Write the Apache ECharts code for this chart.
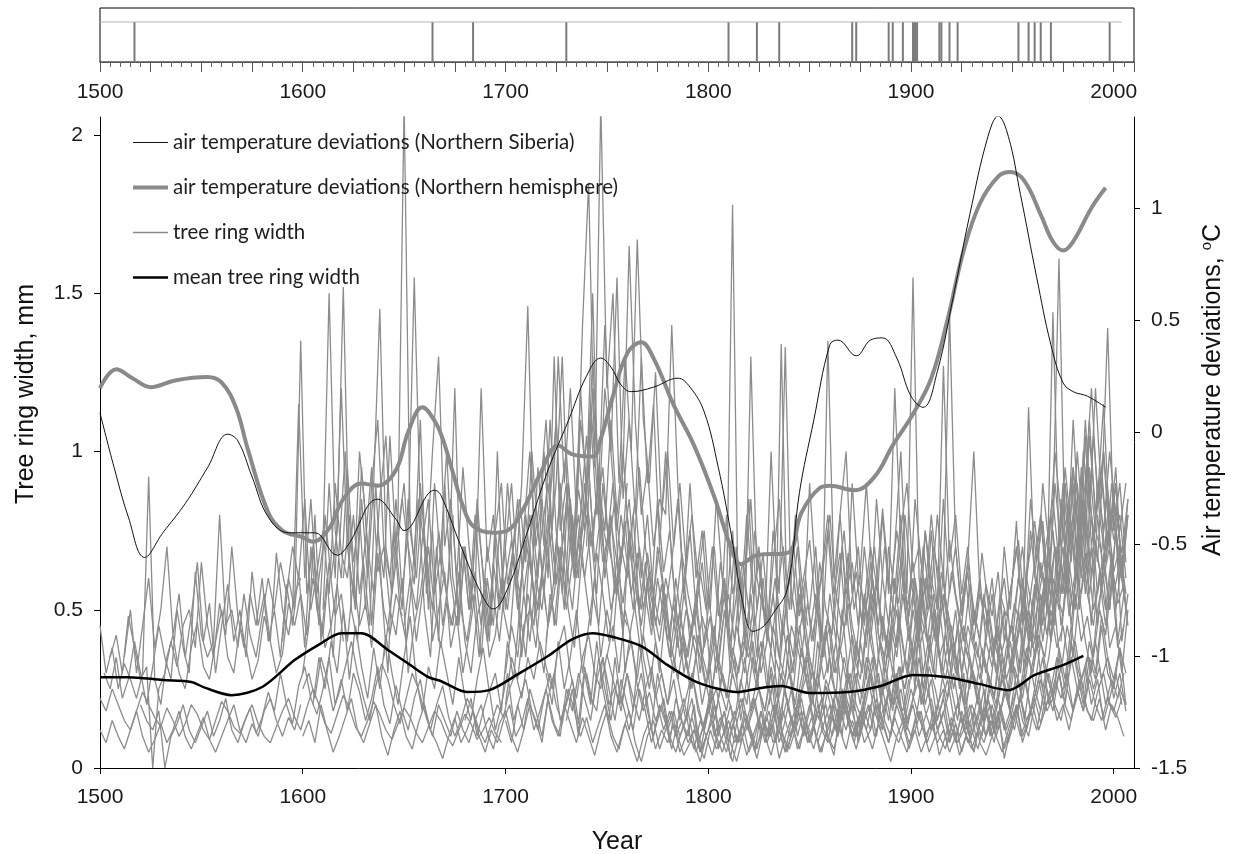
<!DOCTYPE html>
<html><head><meta charset="utf-8">
<script src="https://cdn.jsdelivr.net/npm/echarts@6/dist/echarts.min.js"></script>
<style>html,body{margin:0;padding:0;background:#fff}#c{width:1239px;height:854px}</style>
</head><body><div id="c"></div>
<script>
// ---------- DATA ----------
const xTickYears = [1500, 1600, 1700, 1800, 1900, 2000];
const leftTicks = [0, 0.5, 1, 1.5, 2];
const rightTicks = [-1.5, -1, -0.5, 0, 0.5, 1];

// event years (top strip)
const eventYears = [1517,1664,1684,1730,1810,1824,1835,1871,1873,1889,1891,1896,1901,1902,1903,1914,1915,1919,1923,1953,1958,1961,1964,1969,1998];

// air temperature deviations, Northern Siberia (°C)
const sibYears = [1500,1507,1514,1522,1531,1542,1553,1563,1568,1575,1583,1593,1600,1606,1617,1622,1637,1646,1650,1665,1668,1678,1688,1694,1701,1711,1721,1731,1740,1747,1752,1757,1762,1773,1785,1791,1798,1805,1811,1817,1822,1827,1832,1839,1845,1852,1860,1864,1873,1880,1886,1893,1900,1906,1913,1921,1929,1938,1943,1948,1954,1962,1969,1975,1980,1987,1996];
const sibVals = [0.085,-0.16,-0.38,-0.56,-0.45,-0.32,-0.16,-0.01,-0.04,-0.20,-0.38,-0.45,-0.45,-0.45,-0.55,-0.51,-0.30,-0.39,-0.44,-0.26,-0.28,-0.51,-0.72,-0.79,-0.70,-0.44,-0.17,0.05,0.25,0.33,0.29,0.21,0.18,0.20,0.24,0.20,0.09,-0.16,-0.44,-0.76,-0.89,-0.87,-0.81,-0.70,-0.27,0.05,0.39,0.41,0.34,0.41,0.42,0.33,0.16,0.11,0.27,0.61,0.97,1.32,1.41,1.32,1.06,0.69,0.39,0.22,0.18,0.16,0.11];

// air temperature deviations, Northern hemisphere (°C)
const hemYears = [1500,1508,1516,1525,1537,1553,1560,1567,1573,1583,1590,1600,1605,1613,1620,1629,1637,1646,1652,1659,1665,1669,1674,1679,1684,1694,1701,1709,1717,1726,1733,1743,1747,1753,1760,1767,1773,1783,1793,1803,1811,1816,1824,1839,1846,1855,1860,1872,1882,1891,1901,1910,1918,1926,1934,1943,1949,1956,1964,1970,1975,1980,1989,1996];
const hemVals = [0.196,0.28,0.24,0.20,0.23,0.245,0.22,0.11,-0.08,-0.36,-0.44,-0.47,-0.49,-0.43,-0.30,-0.23,-0.24,-0.17,0.0,0.11,0.05,-0.03,-0.18,-0.33,-0.42,-0.45,-0.44,-0.34,-0.19,-0.06,-0.10,-0.11,-0.03,0.16,0.35,0.40,0.33,0.12,-0.06,-0.29,-0.51,-0.59,-0.55,-0.54,-0.36,-0.25,-0.24,-0.26,-0.20,-0.06,0.08,0.24,0.50,0.81,1.02,1.14,1.16,1.12,0.97,0.85,0.81,0.85,1.0,1.09];

// mean tree ring width (mm)
const meanYears = [1500,1514,1531,1545,1552,1565,1580,1596,1608,1619,1629,1642,1652,1662,1668,1681,1692,1707,1721,1733,1743,1753,1767,1780,1793,1803,1814,1826,1836,1850,1869,1885,1901,1918,1934,1948,1961,1975,1985];
const meanVals = [0.287,0.287,0.278,0.272,0.253,0.23,0.256,0.341,0.39,0.426,0.426,0.373,0.33,0.287,0.275,0.24,0.246,0.30,0.354,0.407,0.426,0.414,0.385,0.325,0.275,0.253,0.24,0.253,0.259,0.237,0.24,0.259,0.294,0.287,0.265,0.246,0.294,0.325,0.354];

// individual tree ring widths (mm), one value every 3 years from each start year
const treeStep = 3;
const treeStarts = [1500,1500,1502,1505,1520,1590,1595,1600,1605,1610,1700,1705,1710,1720,1730,1740,1800,1805,1830,1850,1860,1950,1955,1960,1965,1974,
                    1600,1650,1700,1700,1720,1750,1760,1780,1620,1640,1800,1820,1880,1900,1500,1512,1600,1680,1740,1790];
const trw01 = [.22,.18,.25,.2,.15,.12,.18,.24,.2,.16,.13,.19,.15,.1,.14,.2,.17,.12,.09,.15,.21,.18,.13,.11,.16,.2,.14,.1,.08,.13,.18,.22,.16,.12,.19,.25,.2,.14,.11,.17,.23,.19,.13,.1,.15,.21,.17,.12,.09,.14,.19,.16,.11,.08,.13,.18,.15,.1,.07,.12,.17,.14,.09,.12,.16,.11,.08];
const trw02 = [.45,.3,.38,.25,.33,.28,.22,.3,.92,.28,.2,.35,.42,.3,.25,.38,.46,.32,.28,.4,.5,.35,.3,.45,.38,.28,.34,.48,.4,.3,.36,.52,.45,.55,.42,.6,.5,.38,.45,.58,.4];
const trw03 = [.3,.25,.35,.22,.28,.4,.3,.2,.32,.45,.35,.28,.5,.38,.3,.62,.42,.35,.4,.8,.45,.5,.38,.55,.42,.35,.48,.6,.5,.65,.55,.7,.6,.85,.5,.62,.75,.55,.9,.68,.6,.8,.55,.72,.95,.62,.7,.5,.65,.85,.7,.58,.9,.65,.5,.75,.6,.45,.55,.7,.5,.62,.45,.7,.55,.4,.6,.72,.5,.65,.8,.6,.75,.9,.65,.85,1.0,.7,.88,.75,1.1,.8,.95,.7,.85,.65,.9];
const trw04 = [.35,.42,.3,.48,.38,.28,.32,0,.25,.3,.4,.32,.45,.5,.38,.65,.45,.35,.52,.42,.7,.48,.38,.55,.45,.6,.4,.5,.35,.58,.45,.62,.38,.7,.5,.42,.65,.48,.55,.4,.6,.45,.52,.38,.68,.5,.42,.55,.48];
const trw05 = [.2,.15,.12,.18,0,.1,.14,.2,.12,.08,.13,.18,.1,.15,.22,.12,.08,.14,.19,.11,.16,.24,.18,.3,.2,.14,.26,.32,.22,.17,.25,.35,.2,.28,.18,.3,.24,.15,.22,.32,.2,.14,.26,.18,.12,.22,.28,.16,.1,.2,.15,.1,.18,.12,.08,.15,.2,.11,.06,.14,.18,.1,.05,.12,.2,.15,.08,.22,.14,.1,.25,.18,.3,.22,.15,.28,.35,.2,.26,.18,.3,.22,.15,.25,.32,.2,.12,.18,.1,.15,.08,.12,.05,.1];
const trw06 = [.4,.6,.5,1.35,.55,.7,.45,.8,.6,.75,1.52,.65,.5,.85,.6,.9,1.45,.7,.55,.8,2.1,.75,.6,.85,.5,.9,.65,.55,.8,.45,.7,.5,.85,.6,.4,.75,.55,.9,.65,.5,.8,.6,.95,.7,1.1,.75,.55,.9,.7,1.2,.85,1.3,.9,.75,1.1,.8,1.0,.7,.85,.6,.8,.55,.7,.5,.65,.45,.6,.4,.55,.35,.5];
const trw07 = [.5,1.15,.6,.85,.55,.7,1.5,.75,.6,.95,.65,.8,.5,.9,1.1,.7,.6,.85,.55,.75,1.55,.8,.65,1.0,1.3,.7,.85,.6,.95,.7,.55,1.2,.65,.8,.5,.7,.9,.6,.75,1.0,.7,.85,.6,1.3,.75,.9,.65,1.0,.8,1.15,.9,.7];
const trw08 = [.3,.45,.8,.4,.6,.35,.7,1.0,.5,.4,.65,.45,.9,.55,.3,.75,.5,.4,.6,.85,.5,.35,.7,.45,.6,1.2,.5,.4,.55,.35,.6,.45,1.0,.5,.4,.65,.35,.55,.45,.7,.5];
const trw09 = [.2,.35,.25,.4,.3,.5,.28,.45,.32,.22,.38,.25,.42,.3,.2,.35,.48,.28,.18,.32,.25,.4,.3,.2,.35,.22,.15,.28,.38,.24,.3,.18,.4,.28,.5,.35,.6,.42,.3,.55,.45,.7,.5,.38,.62,.8,.55,.45,.68,.5,.6,.42,.75,.5,.35,.58,.45,.3,.5,.38,.28,.4,.25,.35,.2,.3,.15,.25,.18,.3,.22,.35,.18,.28,.4,.25,.15,.3,.2,.12,.25,.35,.2,.3,.18,.28,.4,.22,.15,.3,.2,.35,.25,.15,.3,.42,.22,.18,.28];
const trw10 = [.5,.9,.6,1.2,.7,.55,1.0,.8,.45,.75,.6,1.05,.7,.5,.85,.65,1.1,.55,.75,.4,.9,.6,.45,.7,.5,.8,.55,.4,.65,.5,.6];
const trw11 = [.3,.45,.35,.55,.4,.6,.5,.7,.45,.65,.55,.8,.6,.9,.7,.85,.65,.75,.55,.7,.6,.8,.5,.65,.45,.7,.55,.4,.6,.45,.35,.5,.3,.45,.25,.4,.55,.3,.45,.35,.5,.3,.4,.25,.45,.35,.55,.3,.4,.5,.35,.25,.45,.3,.5,.38,.28,.42,.32,.55,.4,.3,.48,.35,.6,.42,.3,.5,.38,.45,.55,.4,.62,.35,.5,.3,.45,.38,.28,.4,.32,.45,.3,.4,.25,.38,.5,.35,.55,.42,.6,.5,.7,.45,.65,.8,.55,.7,.6,.75,.55,.65,.5];
const trw12 = [.6,.9,1.46,.7,.85,1.1,.75,1.3,.9,1.2,.8,1.4,1.85,.95,2.1,1.2,1.5,.9,1.3,1.0,1.67,1.1,.9,1.25,.8,1.0,.7,.9,.65,.8,.6,.75,.5,.85,.6,.45,.7,.5,.8,.55,.65,.45,1.0,.55,.7,.5,.8,.6,.45];
const trw13 = [.5,.8,.6,1.0,.7,.9,1.3,.75,.6,1.1,.9,1.5,.8,1.2,1.0,.75,.95,1.65,1.1,.8,.95,.7,.85,.8,1.4,.9,.55,.75,.5,.65,.45];
const trw14 = [.3,.2,.4,.25,.35,.5,.3,.45,.6,.35,.5,.4,.65,.3,.45,.55,.35,.25,.4,.3,.2,.35,.25,.15,.3,.2,.12,.25,.18,.3,.22,.15,.28,.2,.35,.25,.18,.3,.12,.22,.3,.18,.25,.35,.2,.15,.28,.22,.12,.25,.18,.3,.22,.35,.25,.4,.3,.2,.32,.25,.35,.5,.3,.42,.28,.55,.38,.25,.35,.2,.3,.22,.15,.25,.18,.3,.2,.12,.22,.15,.2];
const trw15 = [.15,.25,.1,.3,.2,.4,.25,.15,.35,.2,.3,.18,.4,.25,.12,.3,.2,.08,.22,.15,.1,.2,.05,.15,.25,.1,.18,.03,.14,.22,.12,.05,.18,.1,.2,.08,.15,.25,.1,.18,.08,.15,.22,.1,.04,.18,.12,.2,.08,.15,.2,.1,.25,.15,.3,.18,.12,.22,.35,.2,.28,.15,.22,.1,.18,.25,.12,.05,.15,.2,.1,.18,.03,.12,.2,.08,.15,.25,.18,.3,.22,.35,.25,.4,.3,.2,.35,.28,.45,.3,.25,.38,.2];
const trw16 = [.7,1.2,.9,1.4,1.0,1.55,.85,1.1,.8,1.3,.9,1.15,.7,1.0,.65,.85,.55,.9,.6,.75,.5,.7,.45,.8,.55,.65,.4,1.3,.6,.5,.45];
const trw17 = [.3,.45,.25,.5,1.78,.4,.3,.55,.35,.6,.4,.3,1.34,.45,.35,.6,.4,.28,.5,.35,.55,.4,.7,.45,.3,.5,.38,.6,.42,.3,.45,.35,.55,.4,.6,.45,.3,.5,.35,.42,.3,.45,.35,.25,.4,.3,.5,.35,.25,.38,.45,.3,.5,.35,.6,.45,.7,.5,.65,.55,.75,.5,.68,.45,.8,.6,.7,.5,.65,.45];
const trw18 = [.4,.6,.35,.7,.5,.85,.45,.6,.4,.75,.55,1.33,.5,.7,.45,.9,.6,.4,.75,.5,.8,.55,.65,.45,.7,.5,.85,.6,.45,.7,1.0,.55,1.55,.6,.45,.75,.5,1.27,.65,.8,.55,.7,.45,.6,.4,.55,.35,.5,.3,.45,.6,.4];
const trw19 = [.2,.3,.15,.35,.25,.45,.3,.2,.4,.28,.35,.22,.5,.3,.18,.4,.28,.55,.35,.25,.38,.5,.3,.45,.25,.6,.4,.3,.5,.35,.45,.3,.2,.35,.25,.15,.3,.22,.4,.28,.35,.5,.3,.45,.6,.4,.55,.7,.45,.6,.5,.8,.55,.7,.45,.65,.5,.75,.4,.55];
const trw20 = [.5,.7,.4,1.35,.6,.8,1.0,.55,.7,.45,.65,.5,.8,.55,1.2,.7,.5,.6,.4,.75,.55,.8,.6,1.44,.7,.5,.65,1.0,.55,.45,.6,.4,.7,.5,.78,.45,1.14,.6,.8,.55,1.44,.7,.9,.65,1.0,.75,1.1,.8,.95,.7,.85,.6,.75];
const trw21 = [.15,.25,.1,.3,.2,.12,.25,.35,.18,.28,.2,.3,.15,.25,.4,.2,.3,.12,.22,.35,.25,.15,.3,.1,.2,.28,.15,.08,.2,.12,.18,.28,.15,.3,.4,.25,.35,.5,.3,.45,.35,.55,.4,.3,.5,.6,.38,.45,.3,.5];
const trw22 = [.4,.6,.5,.75,.55,.9,.7,1.0,.8,.65,1.1,.75,.9,1.2,.85,1.0,.7,.9,.6,.8];
const trw23 = [.35,.5,.4,.65,.5,.8,1.61,.7,.9,.65,1.0,.8,1.2,.85,1.39,.75,.9,.65];
const trw24 = [.3,.45,.6,.4,.7,.55,.85,.6,.95,.7,1.05,.8,.65,.9,.7,.55];
const trw25 = [.5,.7,.45,.85,.6,.95,.7,1.1,.8,.65,1.0,.75,.9,.6,.8];
const trw26 = [.4,.65,.9,.55,1.05,.7,.85,1.15,.75,.95,.6,.85];
const trw27 = [.25,.3,.22,.35,.28,.18,.24,.32,.4,.3,.22,.15,.26,.33,.28,.2,.14,.22,.3,.25,.18,.12,.2,.26,.16,.1,.15,.22,.18,.12,.08,.14,.2,.16,.25,.3,.22,.35,.28,.4,.32,.25,.38,.45,.3,.22,.35,.42,.3,.25,.36,.28,.2,.32,.4,.26,.18,.24,.15,.2,.12,.18,.1,.15,.22,.08,.14,.2,.1,.05,.12,.18,.08,.15,.22,.14,.1,.04,.12,.18,.1,.15,.22,.12,.06,.14,.2,.1,.16,.24,.15,.1,.2,.28,.18,.12,.22,.3,.2,.15,.25,.18,.3,.22,.14,.2,.28,.16,.1,.18,.12,.06,.14,.2,.1,.16,.08,.15,.22,.12,.2,.28,.18,.25,.35,.22,.3,.4,.28,.35,.25,.32,.2,.28,.22,.3];
const trw28 = [.45,.6,.4,.55,.7,.5,.38,.52,.45,.62,.4,.3,.48,.55,.35,.42,.6,.5,.68,.55,.72,.6,.5,.65,.8,.58,.7,.9,.62,.75,.85,.7,.95,.6,.78,.65,.52,.7,.58,.45,.6,.5,.4,.55,.35,.48,.3,.42,.5,.36,.28,.4,.32,.22,.38,.3,.45,.35,.25,.4,.5,.35,.28,.42,.3,.55,.4,.32,.25,.38,.45,.3,.4,.52,.35,.28,.45,.6,.42,.35,.5,.38,.6,.45,.32,.48,.4,.55,.35,.28,.4,.3,.45,.35,.25,.38,.3,.22,.35,.42,.3,.45,.55,.4,.5,.62,.48,.7,.55,.65,.5,.72,.6,.8,.55,.68,.5,.75,.6];
const trw29 = [.2,.35,.28,.45,.5,.38,.6,.45,.55,.7,.5,.65,.8,.6,.75,.55,.9,.7,.6,.8,.65,.5,.7,.55,.42,.6,.48,.35,.5,.4,.3,.42,.35,.25,.45,.32,.5,.38,.28,.4,.35,.48,.3,.4,.55,.35,.28,.45,.38,.3,.42,.55,.35,.48,.3,.4,.6,.45,.35,.52,.4,.58,.45,.35,.5,.65,.45,.55,.4,.6,.48,.38,.55,.42,.3,.45,.35,.5,.4,.3,.42,.35,.28,.45,.38,.5,.42,.58,.45,.62,.5,.68,.55,.75,.6,.85,.65,.72,.58,.8,.62,.7,.55];
const trw30 = [.15,.08,.2,.12,.25,.18,.1,.22,.3,.15,.2,.28,.14,.32,.22,.18,.35,.25,.15,.28,.2,.12,.25,.18,.08,.15,.22,.1,.05,.12,.18,.08,.02,.1,.15,.06,.12,.2,.08,.14,.05,.1,.18,.08,.14,.03,.1,.16,.06,.12,.2,.1,.05,.14,.22,.12,.06,.15,.1,.18,.12,.22,.15,.08,.18,.25,.14,.2,.1,.16,.22,.12,.18,.08,.14,.05,.12,.18,.08,.04,.1,.16,.06,.12,.2,.1,.15,.22,.14,.25,.18,.3,.2,.35,.25,.18,.3,.4,.28,.35,.22,.3,.18];
const trw31 = [.4,.55,.7,.5,.85,.6,.75,.95,.65,.8,.7,.9,.6,.78,.55,.68,.5,.62,.45,.58,.4,.52,.35,.5,.42,.6,.38,.48,.3,.45,.55,.4,.62,.35,.5,.7,.45,.38,.55,.42,.6,.48,.35,.52,.4,.65,.5,.42,.58,.75,.5,.62,.45,.55,.7,.48,.38,.6,.52,.8,.6,.45,.7,.55,.4,.62,.5,.35,.48,.6,.42,.35,.55,.4,.3,.48,.38,.52,.45,.6,.5,.65,.58,.8,.62,.9,.7,.85,.6,.95,.72,.88,.65,.8,.7,.6];
const trw32 = [.35,.45,.3,.5,.4,.28,.42,.32,.22,.3,.2,.28,.15,.22,.3,.18,.12,.2,.25,.15,.08,.15,.22,.12,.18,.25,.14,.1,.2,.28,.18,.12,.24,.3,.2,.15,.26,.18,.1,.22,.3,.2,.15,.25,.35,.22,.28,.18,.32,.25,.38,.28,.2,.32,.25,.15,.22,.3,.18,.12,.2,.15,.25,.1,.18,.28,.2,.32,.25,.38,.3,.42,.35,.5,.38,.45,.32,.55,.4,.48,.35,.5,.42,.6,.38,.45];
const trw33 = [.8,.65,.95,.7,.55,.85,.62,.75,.5,.68,.55,.45,.62,.5,.7,.48,.6,.4,.55,.65,.5,.75,.58,.42,.65,.85,.55,.7,.48,.6,.72,.5,.62,.8,.55,.68,.45,.9,.6,.52,.7,.58,.82,.6,.48,.75,.9,.62,.7,.55,.8,.6,.5,.72,.55,.45,.65,.5,.4,.58,.48,.62,.4,.55,.7,.5,.65,.78,.6,.72,.85,.65,.95,.75,.9,.7,1.05,.8,.92,.7,.85,.75,.9];
const trw34 = [.4,.3,.5,.35,.25,.42,.3,.2,.35,.28,.22,.35,.15,.28,.4,.25,.18,.32,.22,.45,.3,.2,.38,.25,.15,.32,.45,.28,.2,.35,.25,.4,.3,.5,.35,.22,.42,.3,.48,.35,.28,.42,.55,.35,.45,.3,.5,.4,.25,.38,.3,.2,.35,.25,.42,.3,.22,.38,.45,.32,.5,.38,.6,.45,.55,.7,.48,.62,.55,.68,.5,.6,.45,.65,.52,.58];
const trw35 = [.6,.8,.5,.95,.7,.55,.85,1.05,.65,.75,.9,.6,.5,.72,.85,.55,.68,1.0,.6,.48,.7,.55,.8,.62,.45,.75,.9,.58,.7,.85,.65,1.0,.75,.55,.85,1.1,.7,.9,.6,.8,1.05,.75,.9,.65,.8,.55,.7,.85,.6,.5,.68,.55,.45,.6,.5,.38,.55,.45,.35,.48,.4];
const trw36 = [.35,.5,.42,.6,.3,.45,.55,.7,.4,.5,.62,.38,.48,.3,.42,.55,.35,.6,.45,.75,.5,.65,.85,.55,.7,.48,.62,.8,.58,.9,.65,.5,.72,.6,.45,.68,.55,.4,.6,.5,.45];
const trw37 = [.55,.4,.65,.5,.75,.45,.6,.85,.5,.68,.45,.6,.38,.55,.72,.48,.6,.4,.52,.65,.8,.55,.45,.68,.5,.62,.9,.58,.45,.7,.55,.75,.6,.48,.85,.65,.5,.7,.6,.45,.62,.5,.4,.58,.45,.68,.52,.38,.55,.48,.6,.72,.5,.85,.65,.78,.55,.9,.7,.8,.95,.7,.85,.6,.9,.75,1.0,.8,.68,.85];
const trw38 = [.15,.22,.1,.18,.28,.12,.05,.15,.2,.1,.18,.25,.12,.08,.2,.15,.28,.18,.1,.22,.3,.18,.12,.25,.2,.32,.15,.22,.28,.18,.12,.2,.25,.15,.08,.18,.12,.05,.15,.1,.2,.12,.25,.18,.3,.22,.35,.25,.4,.3,.22,.38,.28,.45,.32,.25,.4,.3,.48,.35,.28,.38,.3];
const trw39 = [.45,.6,.4,.7,.55,.8,.5,.65,.45,.75,.6,.5,.85,.55,.7,.48,.62,.4,.55,.5,.35,.48,.6,.42,.55,.7,.5,.65,.8,.6,.75,.55,.9,.7,.85,.62,.95,.75,.68,.88,.72,.8,.6];
const trw40 = [.3,.45,.25,.38,.5,.3,.22,.4,.28,.18,.32,.25,.15,.28,.2,.35,.25,.42,.3,.5,.38,.45,.6,.4,.55,.48,.65,.5,.7,.55,.45,.62,.5,.68,.4,.55];
const trw41 = [.12,.08,.15,.1,.06,.12,.18,.1,.05,.09,.14,.08,.12,.18,.1,.06,.11,.16,.09,.05,.1,.15,.2,.12,.08,.14,.1,.18,.22,.15,.1,.16,.12,.2];
const trw42 = [.35,.5,.3,.45,.6,.38,.5,.7,.42,.55,.35,.48,.65,.4,.52,.3,.45,.58,.4,.5,.35,.62,.45,.55,.4,.68,.5,.42,.55,.6];
const trw43 = [.1,.15,.08,.2,.12,.05,.1,.16,.22,.12,.08,.14,.2,.1,.04,.12,.18,.1,.06,.14,.2,.12,.08,.03,.1,.16,.08,.12,.18,.1,.05,.12,.08,.15,.2,.1,.14,.22,.12,.18,.25,.15,.1,.2,.14,.08,.16,.1,.04,.12,.18,.1,.06,.14,.08,.02,.1,.15,.06,.12,.08,.14,.05,.1,.16,.08,.03,.12,.06,.1,.15,.08,.12,.04,.1,.16,.08,.14,.2,.1,.06,.12,.18,.08,.14,.05,.1,.16,.1,.2,.12,.06,.14,.2,.1,.16,.22,.12,.08,.15,.1,.18,.12,.05,.1,.15,.08,.12,.04,.1,.06,.12,.08,.15,.1,.05,.12,.18,.1,.15,.2,.12,.18,.25,.15,.2,.12,.22,.28,.18,.15,.22,.12,.2,.16,.1];
const trw44 = [.15,.22,.1,.18,.25,.12,.2,.3,.15,.22,.28,.18,.12,.22,.3,.2,.14,.25,.18,.1,.16,.08,.14,.2,.1,.05,.12,.18,.08,.02,.1,.15,.06,.12,.18,.1,.04,.08,.14,.06,.12,.2,.1,.05,.14,.08,.16,.1,.03,.12,.18,.08,.14,.22,.12,.06,.15,.1,.2,.12,.08,.16,.24,.14,.1,.18,.12,.06,.14,.08,.02,.1,.15,.08,.12,.05,.1,.18,.1,.06,.14,.2,.12,.08,.16,.1,.22,.14,.18,.25,.15,.2,.28,.18,.12,.22,.3,.2,.15,.25,.18,.28,.2,.15,.24,.3,.2,.16,.22];
const trw45 = [.3,.2,.35,.25,.15,.28,.2,.12,.22,.3,.18,.1,.2,.14,.06,.15,.22,.1,.05,.12,.2,.1,.16,.08,.02,.1,.18,.12,.06,.15,.1,.2,.12,.05,.14,.22,.1,.16,.08,.14,.2,.12,.25,.15,.08,.18,.12,.22,.3,.15,.1,.2,.14,.06,.12,.18,.08,.14,.04,.1,.16,.08,.12,.2,.1,.15,.22,.12,.18,.25,.15,.2,.3,.18,.25,.35,.2,.28,.22,.3,.18,.25,.32,.2,.28,.15,.22,.3,.2];
const trw46 = [.12,.06,.15,.1,.04,.12,.18,.08,.02,.1,.14,.06,.1,.16,.08,.12,.05,.1,.18,.12,.08,.15,.22,.1,.06,.14,.2,.1,.16,.08,.12,.2,.14,.08,.16,.1,.05,.12,.18,.1,.14,.08,.12,.05,.1,.16,.08,.12,.2,.1,.15,.22,.12,.18,.25,.15,.1,.2,.28,.18,.22,.3,.2,.15,.25,.18,.28,.2,.15,.22,.18,.25,.2];
const treeVals = [trw01,trw02,trw03,trw04,trw05,trw06,trw07,trw08,trw09,trw10,trw11,trw12,trw13,trw14,trw15,trw16,trw17,trw18,trw19,trw20,trw21,trw22,trw23,trw24,trw25,trw26,
                  trw27,trw28,trw29,trw30,trw31,trw32,trw33,trw34,trw35,trw36,trw37,trw38,trw39,trw40,trw41,trw42,trw43,trw44,trw45,trw46];

// ---------- CHART ----------
const NAME_SIB = 'air temperature deviations (Northern Siberia)';
const NAME_HEM = 'air temperature deviations (Northern hemisphere)';
const NAME_TRW = 'tree ring width';
const NAME_MEAN = 'mean tree ring width';
const FONT = "'Liberation Sans', Arial, sans-serif";
const zip = (xs, ys) => xs.map((x, i) => [x, ys[i]]);

const series = [];
treeVals.forEach((vals, k) => {
  series.push({
    name: NAME_TRW, type: 'line', xAxisIndex: 0, yAxisIndex: 0,
    data: vals.map((v, i) => [treeStarts[k] + i * treeStep, v]),
    symbol: 'none', showSymbol: false, silent: true,
    lineStyle: { color: '#8c8c8c', width: 1.3 }, itemStyle: { color: '#8c8c8c' }
  });
});
series.push({
  name: NAME_MEAN, type: 'line', xAxisIndex: 0, yAxisIndex: 0, data: zip(meanYears, meanVals),
  symbol: 'none', smooth: 0.3, lineStyle: { color: '#000', width: 2.5 }, itemStyle: { color: '#000' }
});
series.push({
  name: NAME_HEM, type: 'line', xAxisIndex: 0, yAxisIndex: 1, data: zip(hemYears, hemVals),
  symbol: 'none', smooth: 0.4, lineStyle: { color: '#8a8a8a', width: 4 }, itemStyle: { color: '#8a8a8a' }
});
series.push({
  name: NAME_SIB, type: 'line', xAxisIndex: 0, yAxisIndex: 1, data: zip(sibYears, sibVals),
  symbol: 'none', smooth: 0.4, lineStyle: { color: '#111', width: 1 }, itemStyle: { color: '#111' }
});
// top strip
series.push({
  type: 'line', xAxisIndex: 1, yAxisIndex: 2, data: [[1500, 1], [2004, 1]], symbol: 'none', silent: true,
  lineStyle: { color: '#b4b4b4', width: 1 }
});
series.push({
  type: 'bar', xAxisIndex: 1, yAxisIndex: 2, data: eventYears.map(y => [y, 1]), barWidth: 2, silent: true,
  itemStyle: { color: '#7a7a7a' }
});

const labelStyle = { fontFamily: FONT, fontSize: 21, color: '#1a1a1a' };
const legendIcon = h => 'path://M0,0H35V' + h + 'H0Z';
const option = {
  animation: false,
  backgroundColor: '#fff',
  grid: [
    { left: 100, top: 117, width: 1034, height: 651 },
    { left: 100, top: 8, width: 1034, height: 54, show: true, borderColor: '#000', borderWidth: 1, backgroundColor: 'transparent' }
  ],
  xAxis: [
    { type: 'value', gridIndex: 0, min: 1500, max: 2010,
      axisLine: { show: true, lineStyle: { color: '#000', width: 1 } },
      axisTick: { show: true, customValues: xTickYears, length: 6, lineStyle: { color: '#000' } },
      axisLabel: Object.assign({ customValues: xTickYears, margin: 19, formatter: v => String(v) }, labelStyle),
      splitLine: { show: false } },
    { type: 'value', gridIndex: 1, min: 1500, max: 2010, interval: 25,
      axisLine: { show: true, lineStyle: { color: '#555', width: 1 } },
      axisTick: { show: true, length: 10, lineStyle: { color: '#555' } },
      minorTick: { show: true, splitNumber: 5, length: 5, lineStyle: { color: '#666' } },
      axisLabel: Object.assign({ margin: 20, showMaxLabel: false,
        formatter: v => (v % 100 === 0 && v <= 2000) ? String(v) : '' }, labelStyle),
      splitLine: { show: false }, minorSplitLine: { show: false } }
  ],
  yAxis: [
    { type: 'value', gridIndex: 0, min: 0, max: 2.057,
      axisLine: { show: true, lineStyle: { color: '#000', width: 1 } },
      axisTick: { show: true, customValues: leftTicks, length: 6, lineStyle: { color: '#000' } },
      axisLabel: Object.assign({ customValues: leftTicks, margin: 17 }, labelStyle),
      splitLine: { show: false } },
    { type: 'value', gridIndex: 0, position: 'right', min: -1.5, max: 1.406,
      axisLine: { show: true, lineStyle: { color: '#000', width: 1 } },
      axisTick: { show: true, customValues: rightTicks, length: 6, lineStyle: { color: '#000' } },
      axisLabel: Object.assign({ customValues: rightTicks, margin: 17 }, labelStyle),
      splitLine: { show: false } },
    { type: 'value', gridIndex: 1, min: 0, max: 1.35, show: false, splitLine: { show: false } }
  ],
  legend: {
    orient: 'vertical', left: 128, top: 127, itemWidth: 35, itemHeight: 12, itemGap: 24,
    selectedMode: false,
    data: [
      { name: NAME_SIB, icon: legendIcon(1) },
      { name: NAME_HEM, icon: legendIcon(4) },
      { name: NAME_TRW, icon: legendIcon(1.3) },
      { name: NAME_MEAN, icon: legendIcon(2.5) }
    ],
    textStyle: { fontFamily: 'Lato, Carlito, sans-serif', fontSize: 20.5, color: '#1e1e1e' }
  },
  graphic: [
    { type: 'text', x: 26, y: 394, rotation: Math.PI / 2,
      style: { text: 'Tree ring width, mm', fontFamily: FONT, fontSize: 25, fill: '#111', align: 'center', verticalAlign: 'middle' } },
    { type: 'text', x: 1213, y: 390, rotation: Math.PI / 2,
      style: { text: '{a|Air temperature deviations, }{s|o}{a|C}', fill: '#111', align: 'center', verticalAlign: 'middle',
        rich: { a: { fontFamily: FONT, fontSize: 25, fill: '#111', lineHeight: 28 },
                s: { fontFamily: FONT, fontSize: 15, fill: '#111', verticalAlign: 'top', lineHeight: 28 } } } },
    { type: 'text', x: 617, y: 842,
      style: { text: 'Year', fontFamily: FONT, fontSize: 25, fill: '#111', align: 'center', verticalAlign: 'middle' } }
  ],
  series: series
};
const chart = echarts.init(document.getElementById('c'), null, { renderer: 'canvas' });
chart.setOption(option);
</script></body></html>
